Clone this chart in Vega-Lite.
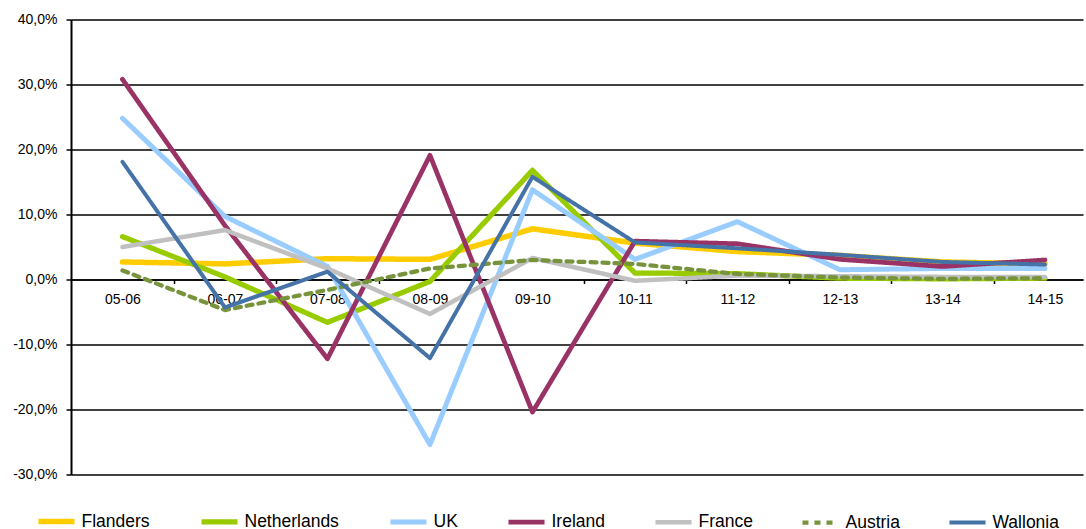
{
  "$schema": "https://vega.github.io/schema/vega-lite/v6.json",
  "width": 1012,
  "height": 455,
  "autosize": {"type": "none"},
  "padding": {"left": 71, "top": 19.5, "right": 3, "bottom": 54.5},
  "background": "white",
  "config": {
    "view": {"stroke": null},
    "font": "Liberation Sans",
    "locale": {"number": {"decimal": ",", "thousands": ".", "grouping": [3], "currency": ["", " €"], "minus": "-"}}
  },
  "data": {
    "values": [
      {"period": "05-06", "series": "Flanders", "value": 2.7},
      {"period": "06-07", "series": "Flanders", "value": 2.4},
      {"period": "07-08", "series": "Flanders", "value": 3.2},
      {"period": "08-09", "series": "Flanders", "value": 3.1},
      {"period": "09-10", "series": "Flanders", "value": 7.8},
      {"period": "10-11", "series": "Flanders", "value": 5.6},
      {"period": "11-12", "series": "Flanders", "value": 4.3},
      {"period": "12-13", "series": "Flanders", "value": 3.7},
      {"period": "13-14", "series": "Flanders", "value": 2.7},
      {"period": "14-15", "series": "Flanders", "value": 2.4},

      {"period": "05-06", "series": "Netherlands", "value": 6.6},
      {"period": "06-07", "series": "Netherlands", "value": 0.4},
      {"period": "07-08", "series": "Netherlands", "value": -6.6},
      {"period": "08-09", "series": "Netherlands", "value": -0.3},
      {"period": "09-10", "series": "Netherlands", "value": 16.8},
      {"period": "10-11", "series": "Netherlands", "value": 1.0},
      {"period": "11-12", "series": "Netherlands", "value": 0.9},
      {"period": "12-13", "series": "Netherlands", "value": 0.2},
      {"period": "13-14", "series": "Netherlands", "value": 0.1},
      {"period": "14-15", "series": "Netherlands", "value": 0.2},

      {"period": "05-06", "series": "UK", "value": 24.8},
      {"period": "06-07", "series": "UK", "value": 9.7},
      {"period": "07-08", "series": "UK", "value": 2.0},
      {"period": "08-09", "series": "UK", "value": -25.4},
      {"period": "09-10", "series": "UK", "value": 13.8},
      {"period": "10-11", "series": "UK", "value": 3.1},
      {"period": "11-12", "series": "UK", "value": 8.9},
      {"period": "12-13", "series": "UK", "value": 1.5},
      {"period": "13-14", "series": "UK", "value": 1.7},
      {"period": "14-15", "series": "UK", "value": 1.7},

      {"period": "05-06", "series": "Ireland", "value": 30.8},
      {"period": "06-07", "series": "Ireland", "value": 8.3},
      {"period": "07-08", "series": "Ireland", "value": -12.2},
      {"period": "08-09", "series": "Ireland", "value": 19.1},
      {"period": "09-10", "series": "Ireland", "value": -20.4},
      {"period": "10-11", "series": "Ireland", "value": 5.9},
      {"period": "11-12", "series": "Ireland", "value": 5.5},
      {"period": "12-13", "series": "Ireland", "value": 3.1},
      {"period": "13-14", "series": "Ireland", "value": 2.0},
      {"period": "14-15", "series": "Ireland", "value": 3.0},

      {"period": "05-06", "series": "France", "value": 5.0},
      {"period": "06-07", "series": "France", "value": 7.6},
      {"period": "07-08", "series": "France", "value": 1.7},
      {"period": "08-09", "series": "France", "value": -5.3},
      {"period": "09-10", "series": "France", "value": 3.3},
      {"period": "10-11", "series": "France", "value": -0.2},
      {"period": "11-12", "series": "France", "value": 0.6},
      {"period": "12-13", "series": "France", "value": 0.5},
      {"period": "13-14", "series": "France", "value": 0.4},
      {"period": "14-15", "series": "France", "value": 0.4},

      {"period": "05-06", "series": "Austria", "value": 1.4},
      {"period": "06-07", "series": "Austria", "value": -4.7},
      {"period": "07-08", "series": "Austria", "value": -1.6},
      {"period": "08-09", "series": "Austria", "value": 1.7},
      {"period": "09-10", "series": "Austria", "value": 3.0},
      {"period": "10-11", "series": "Austria", "value": 2.4},
      {"period": "11-12", "series": "Austria", "value": 0.85},
      {"period": "12-13", "series": "Austria", "value": 0.3},
      {"period": "13-14", "series": "Austria", "value": 0.1},
      {"period": "14-15", "series": "Austria", "value": 0.2},

      {"period": "05-06", "series": "Wallonia", "value": 18.1},
      {"period": "06-07", "series": "Wallonia", "value": -4.3},
      {"period": "07-08", "series": "Wallonia", "value": 1.2},
      {"period": "08-09", "series": "Wallonia", "value": -12.1},
      {"period": "09-10", "series": "Wallonia", "value": 15.8},
      {"period": "10-11", "series": "Wallonia", "value": 5.7},
      {"period": "11-12", "series": "Wallonia", "value": 4.8},
      {"period": "12-13", "series": "Wallonia", "value": 3.8},
      {"period": "13-14", "series": "Wallonia", "value": 2.7},
      {"period": "14-15", "series": "Wallonia", "value": 2.3}
    ]
  },
  "mark": {"type": "line", "strokeCap": "round", "strokeJoin": "round"},
  "encoding": {
    "x": {
      "field": "period",
      "type": "ordinal",
      "sort": ["05-06", "06-07", "07-08", "08-09", "09-10", "10-11", "11-12", "12-13", "13-14", "14-15"],
      "scale": {"type": "point", "padding": 0.4366, "align": 0.575},
      "axis": {
        "title": null,
        "orient": "bottom",
        "offset": -195,
        "domain": true,
        "domainColor": "#000000",
        "domainWidth": 1.5,
        "ticks": true,
        "tickColor": "#000000",
        "tickWidth": 1.5,
        "tickSize": 4,
        "tickOffset": 51.25,
        "labelOffset": -51.25,
        "labelAngle": 0,
        "labelFontSize": 14,
        "labelColor": "#000000",
        "labelPadding": 9,
        "grid": false
      }
    },
    "y": {
      "field": "value",
      "type": "quantitative",
      "scale": {"domain": [-30, 40], "nice": false, "zero": false},
      "axis": {
        "title": null,
        "values": [-30, -20, -10, 0, 10, 20, 30, 40],
        "format": ".1f",
        "labelExpr": "datum.label + '%'",
        "grid": true,
        "gridColor": "#000000",
        "gridWidth": 1.5,
        "gridOpacity": 1,
        "domain": true,
        "domainColor": "#000000",
        "domainWidth": 2,
        "ticks": true,
        "tickColor": "#000000",
        "tickWidth": 1.5,
        "tickSize": 5,
        "labelFontSize": 14,
        "labelColor": "#000000",
        "labelPadding": 9
      }
    },
    "color": {
      "field": "series",
      "type": "nominal",
      "scale": {
        "domain": ["Flanders", "Netherlands", "UK", "Ireland", "France", "Austria", "Wallonia"],
        "range": ["#FFCC00", "#99CC00", "#99CCFF", "#993366", "#C0C0C0", "#77933C", "#4572A7"]
      },
      "legend": {
        "title": null,
        "orient": "none",
        "legendX": -35.5,
        "legendY": 481,
        "direction": "horizontal",
        "columns": 7,
        "columnPadding": 40,
        "padding": 0,
        "symbolType": "stroke",
        "symbolSize": 1300,
        "symbolStrokeWidth": 5,
        "labelFontSize": 17.5,
        "labelOffset": 4,
        "labelColor": "#000000",
        "labelLimit": 300
      }
    },
    "strokeDash": {
      "field": "series",
      "type": "nominal",
      "scale": {
        "domain": ["Flanders", "Netherlands", "UK", "Ireland", "France", "Austria", "Wallonia"],
        "range": [[1, 0], [1, 0], [1, 0], [1, 0], [1, 0], [6, 6], [1, 0]]
      }
    },
    "strokeWidth": {
      "field": "series",
      "type": "nominal",
      "scale": {
        "domain": ["Flanders", "Netherlands", "UK", "Ireland", "France", "Austria", "Wallonia"],
        "range": [5.5, 4, 5, 4.5, 3.5, 4, 3.5]
      },
      "legend": null
    }
  }
}
